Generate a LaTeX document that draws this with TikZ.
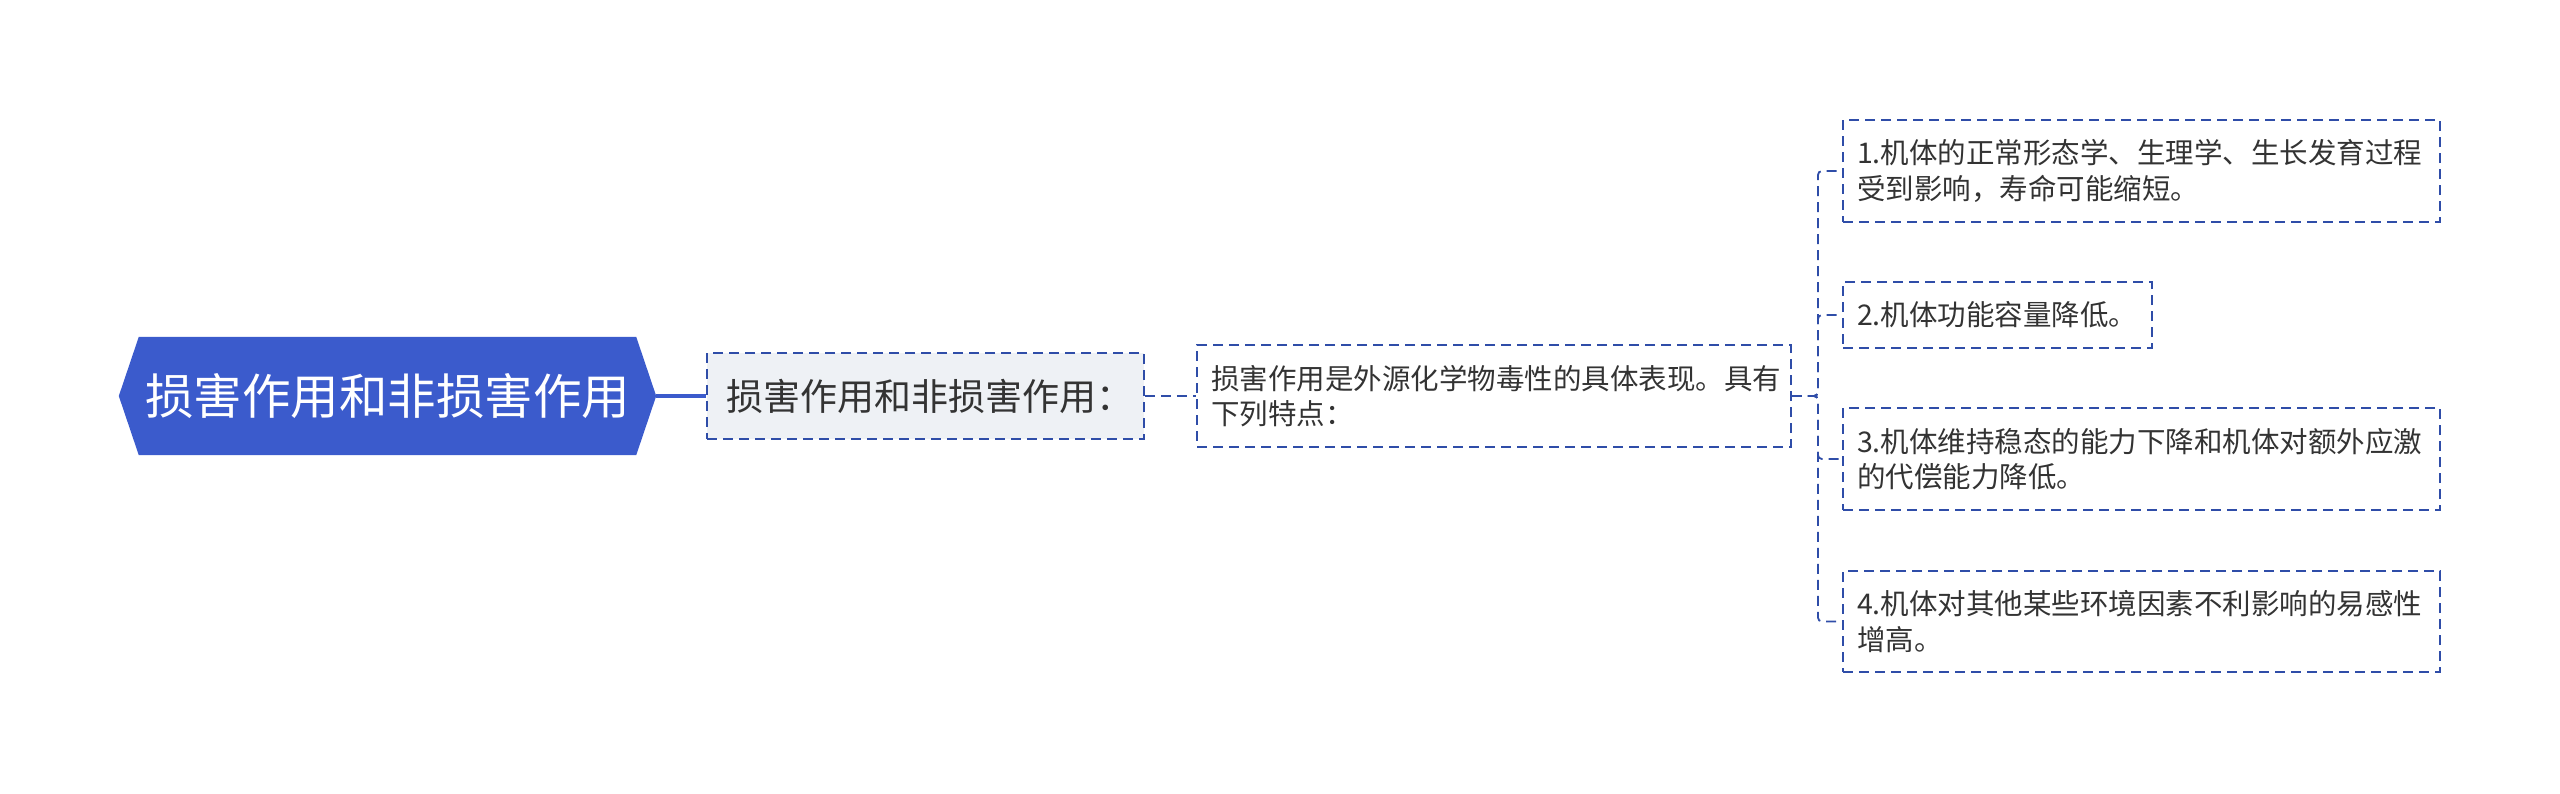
\documentclass[tikz,border=0pt]{standalone}
\usepackage{fontspec}
\newfontfamily\cjk{Noto Sans CJK SC}
\usetikzlibrary{backgrounds}
\definecolor{rootblue}{HTML}{3B5BCC}
\definecolor{edgeblue}{HTML}{2F4DA8}
\definecolor{boxgray}{HTML}{EEF1F5}
\definecolor{txt}{HTML}{333333}
\tikzset{
  rootnode/.style={inner sep=0pt, minimum width=537pt, minimum height=118pt, text=white,
    font=\cjk\fontsize{48.5}{56}\selectfont},
  dashbox/.style={draw=edgeblue, line width=1.8pt, dash pattern=on 10pt off 6pt,
    rectangle, inner ysep=0pt, text=txt, align=left},
  smalltext/.style={font=\cjk\fontsize{28.5}{35.5}\selectfont, inner xsep=14pt},
  link/.style={draw=edgeblue, line width=1.8pt, dash pattern=on 10pt off 6pt, rounded corners=4pt},
}
\begin{document}
\begin{tikzpicture}[x=1pt,y=-1pt]
\useasboundingbox (0,0) rectangle (2560,793);
% root
\node[rootnode] (root) at (387.5,396) {损害作用和非损害作用};
\begin{scope}[on background layer]
\fill[rootblue] (root.west) -- ([xshift=20pt]root.north west) -- ([xshift=-20pt]root.north east)
  -- (root.east) -- ([xshift=-20pt]root.south east) -- ([xshift=20pt]root.south west) -- cycle;
\end{scope}
% second level
\node[dashbox, fill=boxgray, font=\cjk\fontsize{37}{44}\selectfont, inner xsep=19pt,
  text width=399pt, minimum height=86pt] (b2) at (925.5,396) {损害作用和非损害作用：};
% third level
\node[dashbox, smalltext, text width=566pt, minimum height=102pt] (b3) at (1494,396)
  {损害作用是外源化学物毒性的具体表现。具有\\下列特点：};
% leaves
\node[dashbox, smalltext, text width=569pt, minimum height=102pt] (l1) at (2141.5,171)
  {1.机体的正常形态学、生理学、生长发育过程\\受到影响，寿命可能缩短。};
\node[dashbox, smalltext, text width=281pt, minimum height=66pt] (l2) at (1997.5,315)
  {2.机体功能容量降低。};
\node[dashbox, smalltext, text width=569pt, minimum height=102pt] (l3) at (2141.5,459)
  {3.机体维持稳态的能力下降和机体对额外应激\\的代偿能力降低。};
\node[dashbox, smalltext, text width=569pt, minimum height=101pt] (l4) at (2141.5,621.5)
  {4.机体对其他某些环境因素不利影响的易感性\\增高。};
% connectors
\draw[rootblue, line width=4pt] (root.east) -- (b2.west);
\draw[link] (b2.east) -- (b3.west);
\foreach \leaf in {l1,l2,l3,l4}{
  \draw[link] (b3.east) -- ++(26,0) |- (\leaf.west);
}
\end{tikzpicture}
\end{document}
